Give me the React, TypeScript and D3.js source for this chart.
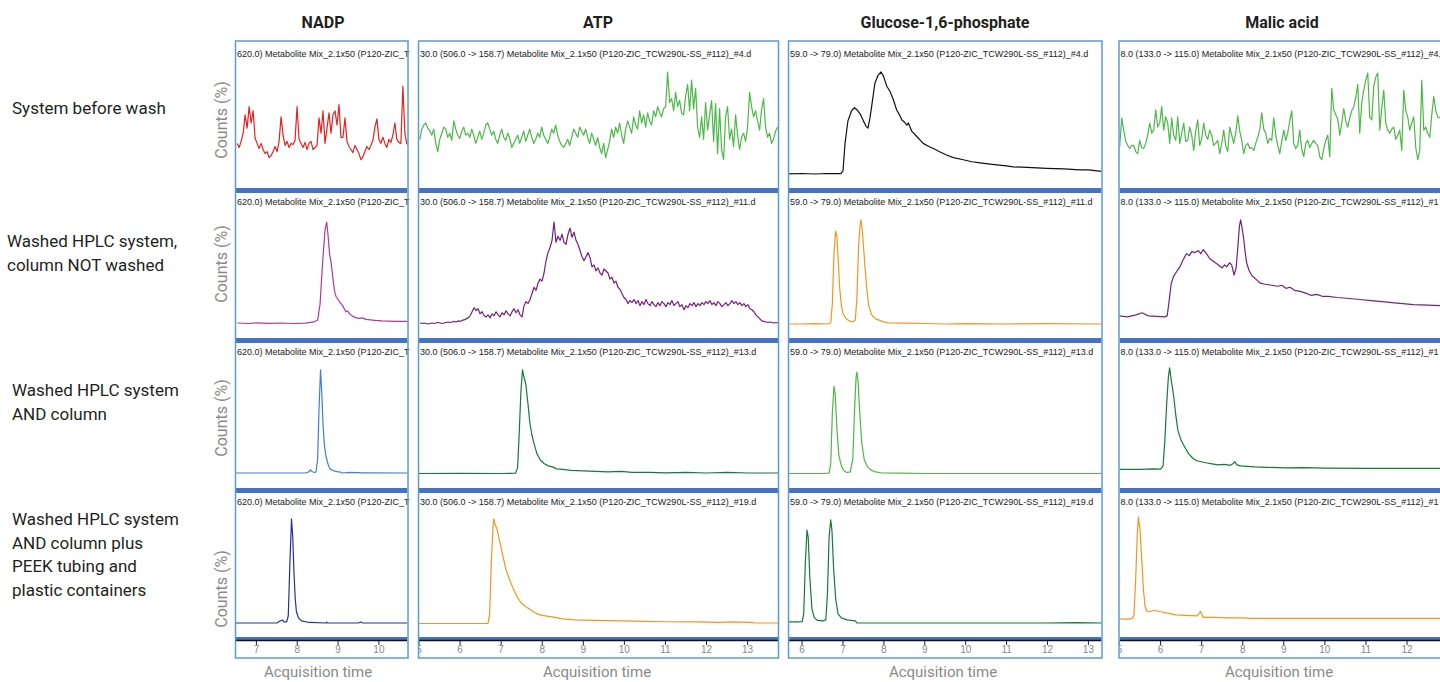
import React from 'react';
import * as d3 from 'd3';

// ---------- categories / labels ----------
const compounds = ['NADP', 'ATP', 'Glucose-1,6-phosphate', 'Malic acid'];
const conditions = [
  ['System before wash'],
  ['Washed HPLC system,', 'column NOT washed'],
  ['Washed HPLC system', 'AND column'],
  ['Washed HPLC system', 'AND column plus', 'PEEK tubing and', 'plastic containers'],
];
// visible part of each chromatogram caption (the instrument caption is cut by the panel)
const captionRows: string[][] = [
  [
    '620.0) Metabolite Mix_2.1x50 (P120-ZIC_T',
    '620.0) Metabolite Mix_2.1x50 (P120-ZIC_T',
    '620.0) Metabolite Mix_2.1x50 (P120-ZIC_T',
    '620.0) Metabolite Mix_2.1x50 (P120-ZIC_T',
  ],
  [
    '30.0 (506.0 -> 158.7) Metabolite Mix_2.1x50 (P120-ZIC_TCW290L-SS_#112)_#4.d',
    '30.0 (506.0 -> 158.7) Metabolite Mix_2.1x50 (P120-ZIC_TCW290L-SS_#112)_#11.d',
    '30.0 (506.0 -> 158.7) Metabolite Mix_2.1x50 (P120-ZIC_TCW290L-SS_#112)_#13.d',
    '30.0 (506.0 -> 158.7) Metabolite Mix_2.1x50 (P120-ZIC_TCW290L-SS_#112)_#19.d',
  ],
  [
    '59.0 -> 79.0) Metabolite Mix_2.1x50 (P120-ZIC_TCW290L-SS_#112)_#4.d',
    '59.0 -> 79.0) Metabolite Mix_2.1x50 (P120-ZIC_TCW290L-SS_#112)_#11.d',
    '59.0 -> 79.0) Metabolite Mix_2.1x50 (P120-ZIC_TCW290L-SS_#112)_#13.d',
    '59.0 -> 79.0) Metabolite Mix_2.1x50 (P120-ZIC_TCW290L-SS_#112)_#19.d',
  ],
  [
    '8.0 (133.0 -> 115.0) Metabolite Mix_2.1x50 (P120-ZIC_TCW290L-SS_#112)_#4.',
    '8.0 (133.0 -> 115.0) Metabolite Mix_2.1x50 (P120-ZIC_TCW290L-SS_#112)_#1',
    '8.0 (133.0 -> 115.0) Metabolite Mix_2.1x50 (P120-ZIC_TCW290L-SS_#112)_#1',
    '8.0 (133.0 -> 115.0) Metabolite Mix_2.1x50 (P120-ZIC_TCW290L-SS_#112)_#1',
  ],
];
const xTickValues = [
  [7, 8, 9, 10],
  [5, 6, 7, 8, 9, 10, 11, 12, 13],
  [6, 7, 8, 9, 10, 11, 12, 13],
  [5, 6, 7, 8, 9, 10, 11, 12],
];
const xDomains = [
  [6.5, 10.7],
  [5.0, 13.74],
  [5.68, 13.32],
  [5.0, 13.74],
];
const traceColors = [
  ['#e8201f', '#b2389b', '#3a7fd5', '#23329a'],
  ['#4cb848', '#76207e', '#157a3a', '#f7941d'],
  ['#111111', '#f7941d', '#4cb848', '#157a3a'],
  ['#4cb848', '#76207e', '#157a3a', '#f7941d'],
];

// ---------- series (time in min, counts in %) ----------
// noisy traces sampled on a regular acquisition grid
const nadpSystemT0 = 6.528, nadpSystemDt = 0.0489;
const nadpSystem = [30,26,32,40,58,45,66,50,62,35,30,25,30,24,20,22,16,18,22,27,22,32,56,38,28,32,26,30,29,33,66,34,30,26,31,24,30,32,24,26,28,55,40,62,30,45,60,40,58,62,48,68,36,36,55,32,27,24,21,28,24,20,14,17,22,27,24,28,33,46,54,34,30,36,30,26,34,31,38,50,34,31,30,86,40,29];

const atpSystemT0 = 5.019, atpSystemDt = 0.04866;
const atpSystem = [
  34,44,48,50,45,42,38,44,30,22,34,40,46,44,36,40,33,52,44,38,35,42,46,38,
  40,36,44,38,30,36,42,34,40,48,50,44,38,42,34,30,38,44,36,33,40,35,26,30,
  34,38,30,36,42,32,38,44,36,30,34,40,36,46,38,34,30,36,44,40,48,38,32,28,
  26,30,34,28,36,44,40,36,46,42,38,44,36,30,40,34,28,36,26,20,30,16,24,32,
  44,36,46,40,50,38,30,44,52,46,40,56,48,44,62,50,58,46,60,52,48,62,56,66,
  60,56,64,66,100,70,74,62,80,66,72,60,58,76,88,62,92,64,84,46,36,56,34,70,
  43,58,72,32,69,20,64,24,14,56,66,34,44,27,58,38,24,36,40,32,46,80,66,56,
  62,52,43,63,74,46,36,40,30,34,42,46,
];

const atpColumnOnlyT0 = 5.027, atpColumnOnlyDt = 0.04866;
const atpColumnOnly = [
  1,0.5,1,0.5,0,0.5,1,0.5,1,1.5,1,0.5,1,1.5,2,1.5,2,2.5,2,3,2.5,3.5,
  4,5,6,8,12,16,13,15,10,12,8,7,9,6,10,8,12,9,7,11,9,13,10,8,12,15,11,14,9,7,
  18,22,20,24,30,36,33,40,44,42,50,62,70,75,82,100,80,86,82,88,80,78,88,94,85,90,82,78,
  72,66,62,66,70,65,56,58,52,55,50,48,54,52,50,44,46,40,42,36,34,30,26,24,20,23,21,24,
  20,23,18,22,19,24,20,18,22,19,17,21,18,22,20,17,21,19,23,18,20,22,17,19,14,18,16,20,
  18,21,17,20,18,21,19,22,20,23,19,21,18,22,20,17,19,21,18,20,23,20,22,19,21,18,20,17,
  19,15,14,12,9,7,5,3,2.5,2,1.5,2,1.5,1,1.5,1,
];

const malicSystemT0 = 5.005, malicSystemDt = 0.0487;
const malicSystem = [
  27,55,43,32,28,25,28,28,22,20,33,26,25,30,38,50,40,43,63,46,50,66,43,56,50,30,55,38,33,56,
  30,40,50,32,33,46,38,23,42,53,28,35,50,38,34,43,38,28,30,33,20,30,43,28,22,46,38,30,40,57,
  42,33,20,28,30,25,26,23,30,36,43,60,44,40,30,35,33,55,38,28,20,32,43,33,40,52,62,30,25,28,
  43,24,17,30,33,26,30,33,30,28,17,14,25,33,38,17,84,63,58,54,38,50,64,52,46,55,62,66,75,88,
  40,70,82,92,99,56,53,86,95,99,43,65,82,50,43,40,44,46,34,38,43,23,82,62,56,43,50,56,26,14,
  23,92,43,46,40,36,58,76,62,56,55,
];

// peak traces as (time, %) readings
const nadpColumnOnly = [[6.53,1],[6.8,0.5],[7.0,1.2],[7.3,0.6],[7.6,1],[7.9,0.5],[8.2,0.8],[8.4,2],[8.5,4],[8.56,20],[8.62,60],[8.68,92],[8.72,100],[8.75,89],[8.79,69],[8.83,60],[8.87,46],[8.91,33],[8.95,27],[9.0,24],[9.03,22],[9.07,20],[9.11,18],[9.15,15],[9.19,12],[9.23,13],[9.28,10],[9.36,7.5],[9.45,6],[9.52,5.5],[9.6,6],[9.68,4.5],[9.9,3.5],[10.08,3],[10.4,2.5],[10.7,2.5]];
const nadpWashed = [[6.5,1],[7.5,1],[8.2,1],[8.28,2],[8.32,4],[8.36,2.5],[8.42,1.5],[8.46,2],[8.5,15],[8.53,60],[8.57,102],[8.6,80],[8.63,50],[8.66,30],[8.7,18],[8.75,10],[8.8,5],[8.9,3],[9.0,2],[9.05,2],[9.1,1],[9.3,1.5],[9.6,1.2],[10.7,1]];
const nadpPeek = [[6.5,1],[7.2,1],[7.5,1],[7.58,3],[7.63,4],[7.68,2],[7.74,2],[7.78,8],[7.82,60],[7.86,103],[7.89,85],[7.92,50],[7.95,25],[7.98,12],[8.03,6],[8.1,3],[8.3,1.5],[8.7,1],[8.72,1.8],[8.74,1],[9.5,1],[9.55,2],[9.6,1],[10.7,1]];

const atpWashed = [[5.0,0.5],[6.0,0.6],[7.0,0.5],[7.35,0.8],[7.4,6],[7.44,40],[7.48,80],[7.52,102],[7.55,96],[7.6,88],[7.65,70],[7.7,50],[7.75,38],[7.8,30],[7.87,20],[7.95,14],[8.05,10],[8.15,8],[8.25,7],[8.35,5],[8.5,4.5],[8.7,3.5],[9.0,3],[9.3,2.5],[9.6,2],[9.9,2.5],[10.2,1.5],[10.6,1.5],[11.0,1.2],[11.5,1.5],[12.0,1],[12.5,1.5],[13.0,1],[13.74,1]];
const atpPeek = [[5.0,0.5],[6.0,0.5],[6.68,0.6],[6.72,10],[6.76,60],[6.8,95],[6.82,103],[6.86,97],[6.9,93],[6.96,82],[7.03,69],[7.12,53],[7.2,44],[7.31,33],[7.4,26],[7.5,20],[7.6,17],[7.68,15],[7.78,12],[7.87,10],[8.0,8.5],[8.24,7],[8.5,5],[8.8,4],[9.3,3.5],[9.92,3],[10.5,2.5],[11.0,2.2],[11.78,2],[12.3,1.5],[12.6,2],[13.08,1.5],[13.2,1],[13.74,1]];

const glucoseSystem = [[5.66,0],[6.0,0.5],[6.3,0],[6.6,0.5],[6.95,0.3],[7.0,3],[7.05,30],[7.12,52],[7.21,62],[7.28,65],[7.34,63],[7.42,59],[7.5,52],[7.56,47],[7.61,45],[7.66,55],[7.7,66],[7.78,89],[7.86,97],[7.93,100],[7.99,96],[8.07,86],[8.15,81],[8.23,73],[8.31,63],[8.38,58],[8.44,53],[8.5,51],[8.56,48],[8.6,50],[8.68,42],[8.8,37],[8.96,30],[9.1,27],[9.21,25],[9.35,22],[9.53,18.6],[9.7,16],[9.94,14],[10.15,12],[10.35,11],[10.55,10],[10.76,9],[11.0,8],[11.16,7],[11.5,6.5],[11.98,5.6],[12.4,5],[12.79,4],[13.0,4],[13.32,2.5]];
const glucoseColumnOnly = [[5.68,0],[6.0,0],[6.3,0.3],[6.6,0],[6.7,1],[6.74,20],[6.78,70],[6.82,91],[6.85,86],[6.88,65],[6.92,35],[6.96,18],[7.0,10],[7.08,5],[7.16,3],[7.24,2],[7.3,4],[7.34,25],[7.38,75],[7.42,98],[7.44,102],[7.48,88],[7.53,60],[7.58,35],[7.63,18],[7.7,9],[7.8,5],[7.9,3.5],[8.0,2],[8.12,1],[8.5,0.8],[9.0,0.5],[9.5,0],[10.0,0.3],[11.0,0],[12.0,0.3],[13.32,0]];
const glucoseWashed = [[5.68,0.5],[6.5,0.5],[6.66,0.8],[6.7,10],[6.74,60],[6.78,86],[6.81,78],[6.85,45],[6.9,18],[6.96,8],[7.03,3],[7.1,1.5],[7.18,2],[7.24,15],[7.28,60],[7.32,95],[7.34,100],[7.37,90],[7.41,60],[7.46,30],[7.52,14],[7.6,7],[7.7,3.5],[7.8,2],[7.95,1],[8.4,0.8],[9.0,0.5],[10.0,0.5],[11.0,0.5],[12.0,0.5],[13.32,0.5]];
const glucosePeek = [[5.68,2],[5.9,2],[6.0,2.2],[6.04,10],[6.08,60],[6.12,92],[6.15,85],[6.19,45],[6.24,15],[6.3,6],[6.38,3.5],[6.5,3],[6.58,4],[6.62,30],[6.66,85],[6.7,102],[6.73,92],[6.77,55],[6.82,25],[6.88,10],[6.96,6],[7.1,4],[7.3,3],[7.34,1],[8.0,1],[9.0,1],[10.0,1],[11.0,1],[12.0,1],[12.7,1.3],[13.32,1]];

const malicColumnOnly = [[4.98,8],[5.2,7],[5.4,9],[5.55,11],[5.7,8],[5.9,7.5],[6.1,7],[6.16,8],[6.2,20],[6.26,40],[6.32,47],[6.4,52],[6.47,56],[6.55,63],[6.63,69],[6.7,67],[6.76,71],[6.84,70],[6.92,72],[6.98,69],[7.04,73],[7.1,70],[7.2,64],[7.3,61],[7.4,58],[7.5,55],[7.56,58],[7.61,56],[7.68,60],[7.73,58],[7.79,48],[7.84,55],[7.88,75],[7.92,96],[7.95,102],[7.98,95],[8.02,85],[8.06,70],[8.1,59],[8.16,52],[8.23,47],[8.32,44],[8.43,40],[8.55,39],[8.7,38],[8.85,37],[8.95,38],[9.05,35],[9.15,36],[9.26,33],[9.4,32],[9.55,30],[9.67,28],[9.8,29],[9.95,27],[10.08,27],[10.3,26],[10.6,25],[10.85,24],[11.12,23],[11.4,22],[11.63,21],[11.9,20],[12.15,19],[12.5,18.5],[12.85,18],[13.2,17.5]];
const malicWashed = [[4.98,4.5],[5.5,4.5],[5.8,5],[6.0,4.8],[6.06,8],[6.1,30],[6.15,70],[6.19,95],[6.22,104],[6.26,92],[6.32,76],[6.37,58],[6.42,43],[6.5,33],[6.58,27],[6.68,20],[6.78,15.7],[6.88,13],[6.99,12],[7.1,11],[7.25,10],[7.4,9],[7.55,9.5],[7.7,8.5],[7.76,10],[7.81,12],[7.86,9],[7.95,8],[8.02,7.8],[8.3,7],[8.6,6.5],[9.05,6],[9.5,6.2],[10.0,5.8],[11.0,5.6],[12.0,5.6],[13.2,5.6]];
const malicPeek = [[4.98,5],[5.2,4.8],[5.3,5.2],[5.35,8],[5.39,40],[5.43,85],[5.46,105],[5.5,92],[5.54,65],[5.58,35],[5.62,18],[5.66,13],[5.72,12],[5.8,13],[5.9,13],[6.0,12],[6.2,10.5],[6.37,9],[6.6,8.5],[6.89,8],[6.94,10],[6.97,12.4],[7.01,9],[7.04,6.5],[7.3,6.5],[7.6,6],[8.02,6],[8.2,5.5],[8.6,5.5],[9.0,5.5],[10,5.5],[11,5.5],[12,5.5],[13.2,5.5]];

const regular = (t0: number, dt: number, vals: number[]) => vals.map((v, i) => [t0 + i * dt, v]);

const series: number[][][][] = [
  [regular(nadpSystemT0, nadpSystemDt, nadpSystem), nadpColumnOnly, nadpWashed, nadpPeek],
  [regular(atpSystemT0, atpSystemDt, atpSystem), regular(atpColumnOnlyT0, atpColumnOnlyDt, atpColumnOnly), atpWashed, atpPeek],
  [glucoseSystem, glucoseColumnOnly, glucoseWashed, glucosePeek],
  [regular(malicSystemT0, malicSystemDt, malicSystem), malicColumnOnly, malicWashed, malicPeek],
];

// ---------- layout ----------
const W = 1440, H = 682;
const colRanges = [[236, 407.5], [419, 778], [789, 1101.5], [1119.5, 1478.5]];
const titleX = [323, 598, 945, 1282];
const axisTitleX = [318, 597, 943, 1279];
const frameTop = 41, frameBottom = 658;
const rowPitch = 150;
const countsY = [120, 264, 418, 589];
const subtitleY = [56.5, 205, 355, 504.5];
const labelStarts = [[12, 114], [7, 247], [12, 396], [12, 525]];

const FRAME = '#5b9bd5';
const BAR = '#4472c4';
const GRAY = '#8a8a8a';

export default function App() {
  return (
    <div style={{ position: 'absolute', left: 0, top: 0, width: W, height: H, overflow: 'hidden', background: '#fff' }}>
      <svg width={W} height={H} style={{ display: 'block' }}>
        <defs>
          {colRanges.map((r, c) => (
            <clipPath id={`clip${c}`} key={c}>
              <rect x={r[0]} y={frameTop} width={r[1] - r[0]} height={frameBottom - frameTop} />
            </clipPath>
          ))}
        </defs>

        {/* condition labels */}
        {conditions.map((lines, r) => (
          <text key={r} x={labelStarts[r][0]} y={labelStarts[r][1]} fontFamily="Roboto, sans-serif" fontSize={17} fill="#231f20">
            {lines.map((l, i) => (
              <tspan key={i} x={labelStarts[r][0]} dy={i === 0 ? 0 : 23.7}>{l}</tspan>
            ))}
          </text>
        ))}

        {/* y axis titles */}
        {countsY.map((cy, r) => (
          <text key={r} transform={`translate(227,${cy}) rotate(-90)`} textAnchor="middle" fontFamily="Roboto, sans-serif" fontSize={16} fill={GRAY}>Counts (%)</text>
        ))}

        {compounds.map((name, c) => {
          const [x0, x1] = colRanges[c];
          const xs = d3.scaleLinear().domain(xDomains[c]).range([x0, x1]);
          return (
            <g key={c}>
              <text x={titleX[c]} y={28} textAnchor="middle" fontFamily="Roboto, sans-serif" fontWeight={700} fontSize={16} fill="#231f20">{name}</text>
              <g clipPath={`url(#clip${c})`}>
                {series[c].map((pts, r) => {
                  const ys = d3.scaleLinear().domain([0, 100]).range([174 + rowPitch * r, 72 + rowPitch * r]);
                  const line = d3.line<number[]>().x(d => xs(d[0])).y(d => ys(d[1]));
                  return (
                    <g key={r}>
                      <path d={line(pts) || ''} fill="none" stroke={traceColors[c][r]} strokeWidth={1.2} strokeLinejoin="round" />
                      {r > 0 && <rect x={x0} y={188 + rowPitch * (r - 1)} width={x1 - x0} height={5} fill={BAR} />}
                    </g>
                  );
                })}
                <rect x={x0} y={637} width={x1 - x0} height={3} fill={BAR} />
                <line x1={x0} x2={x1} y1={640.5} y2={640.5} stroke="#111" strokeWidth={1.3} />
                {xTickValues[c].map(t => (
                  <g key={t}>
                    <line x1={xs(t)} x2={xs(t)} y1={641} y2={645} stroke="#222" strokeWidth={1} />
                    <text x={xs(t)} y={652.5} textAnchor="middle" fontFamily="'Liberation Sans', Arial, sans-serif" fontSize={10} fill="#888">{t}</text>
                  </g>
                ))}
              </g>
              {captionRows[c].map((cap, r) => (
                <text key={r} x={x0 + 1} y={subtitleY[r]} fontFamily="'Liberation Sans', Arial, sans-serif" fontSize={9} fill="#222">{cap}</text>
              ))}
              <rect x={x0 - 0.5} y={frameTop} width={x1 - x0 + 1} height={frameBottom - frameTop} fill="none" stroke={FRAME} strokeWidth={1.5} />
              <text x={axisTitleX[c]} y={677} textAnchor="middle" fontFamily="Roboto, sans-serif" fontSize={15} fill={GRAY}>Acquisition time</text>
            </g>
          );
        })}
      </svg>
    </div>
  );
}
